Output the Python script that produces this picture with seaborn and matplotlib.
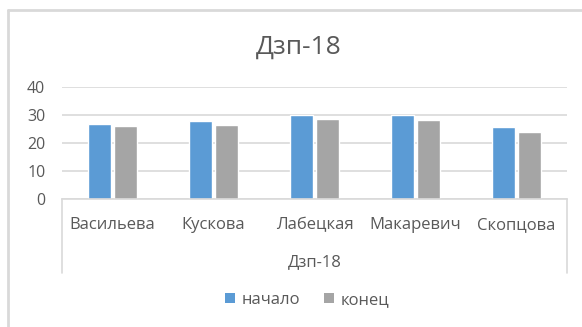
import matplotlib
matplotlib.use("Agg")
import matplotlib.pyplot as plt
from matplotlib.lines import Line2D
from matplotlib.patches import Patch
import seaborn as sns
import pandas as pd

# Data
students = ["Васильева", "Кускова", "Лабецкая", "Макаревич", "Скопцова"]
start_scores = [27, 28, 30, 30, 25.7]
end_scores = [26.3, 26.5, 28.7, 28.3, 24]
series_names = ["начало", "конец"]
group_name = "Дзп-18"
title = "Дзп-18"
y_ticks = [0, 10, 20, 30, 40]

df = pd.DataFrame({
    "student": students * 2,
    "score": start_scores + end_scores,
    "series": [series_names[0]] * len(students) + [series_names[1]] * len(students),
})

sns.set_theme(style="white")
plt.rcParams["font.family"] = ["Open Sans", "DejaVu Sans"]

text_color = "#595959"
grid_color = "#D9D9D9"
palette = {"начало": "#5B9BD5", "конец": "#A5A5A5"}
label_size = 12

W, H = 582, 327
fig = plt.figure(figsize=(W / 100, H / 100), dpi=100)
left, right, bottom, top = 62, 567, 199.3, 87.3
ax = fig.add_axes([left / W, 1 - bottom / H, (right - left) / W, (bottom - top) / H])

sns.barplot(data=df, x="student", y="score", hue="series", palette=palette,
            width=0.515, gap=0.15, saturation=1, legend=False, ax=ax)

ax.set_ylim(0, 40)
ax.set_xlim(-0.5, len(students) - 0.5)
ax.set_yticks(y_ticks)
ax.yaxis.grid(True, color=grid_color, linewidth=1.2)
ax.set_axisbelow(True)
for s in ["top", "right", "left"]:
    ax.spines[s].set_visible(False)
ax.spines["bottom"].set_color(grid_color)
ax.spines["bottom"].set_linewidth(1.2)
ax.set_xlabel("")
ax.set_ylabel("")
ax.tick_params(axis="y", length=0, pad=12, labelsize=11.5, labelcolor=text_color)
ax.tick_params(axis="x", length=0, pad=13, labelsize=label_size, labelcolor=text_color)

# Multi-level category axis: outer boundaries and group label
axis_h = bottom - top
low = -(273 - bottom) / axis_h
for xv in (-0.5, len(students) - 0.5):
    ax.plot([xv, xv], [0, low], color=grid_color, linewidth=1.2,
            transform=ax.get_xaxis_transform(), clip_on=False)
ax.text(0.5, -(262 - bottom) / axis_h, group_name, transform=ax.transAxes,
        ha="center", va="center", fontsize=label_size, color=text_color)

fig.text(299 / W, 1 - 47 / H, title, ha="center", va="center",
         fontsize=19, color=text_color)

handles = [Patch(facecolor=palette[n], edgecolor="none") for n in series_names]
fig.legend(handles, series_names, loc="center", bbox_to_anchor=(307 / W, 1 - 300 / H),
           ncol=2, frameon=False, fontsize=label_size, labelcolor=text_color,
           handlelength=0.6, handleheight=0.6, handletextpad=0.4, columnspacing=1.4)

# Chart frame
frame_kw = dict(color="#D9D9D9", linewidth=2)
fig.add_artist(Line2D([8 / W, 1], [1 - 10 / H, 1 - 10 / H], transform=fig.transFigure, **frame_kw))
fig.add_artist(Line2D([8 / W, 8 / W], [0, 1 - 10 / H], transform=fig.transFigure, **frame_kw))

fig.savefig("out.png", dpi=100, facecolor="white")
